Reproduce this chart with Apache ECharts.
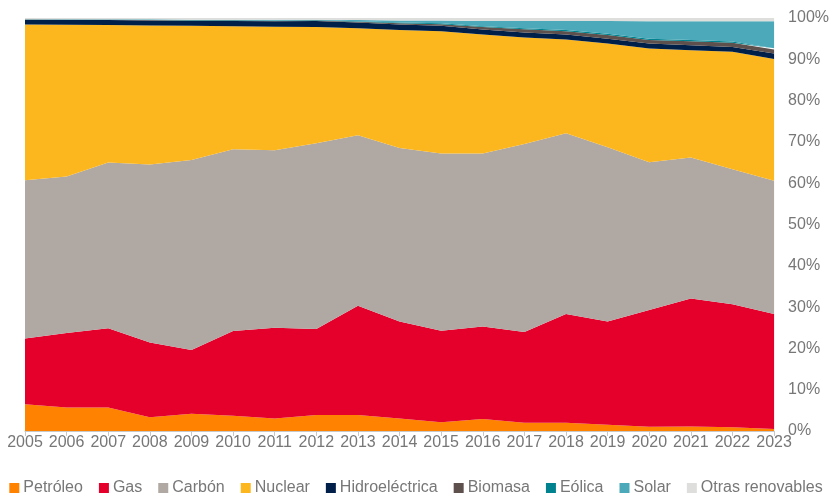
<!DOCTYPE html>
<html>
<head>
<meta charset="utf-8">
<script src="https://cdn.jsdelivr.net/npm/echarts@6/dist/echarts.min.js"></script>
<style>
  html, body { margin: 0; padding: 0; background: #ffffff; }
  #chart { width: 832px; height: 499px; }
</style>
</head>
<body>
<div id="chart"></div>
<script>
// Generation mix by source, share of total (%)
const years = ['2005','2006','2007','2008','2009','2010','2011','2012','2013','2014',
               '2015','2016','2017','2018','2019','2020','2021','2022','2023'];

const petroleo      = [6.5, 5.7, 5.7, 3.3, 4.2, 3.7, 3.0, 3.9, 3.9, 3.0, 2.1, 2.9, 2.0, 2.0, 1.5, 1.0, 1.1, 0.9, 0.5];
const gas           = [15.9, 18.0, 19.2, 18.1, 15.4, 20.5, 22.0, 20.8, 26.4, 23.5, 22.2, 22.4, 22.0, 26.3, 25.0, 28.3, 31.0, 29.8, 27.8];
const carbon        = [38.3, 37.9, 40.1, 43.1, 46.0, 44.0, 43.0, 45.0, 41.3, 42.0, 42.9, 41.9, 45.5, 43.8, 42.2, 35.8, 34.1, 32.7, 32.3];
const nuclear       = [37.7, 36.75, 33.3, 33.7, 32.5, 29.8, 29.9, 28.1, 25.9, 28.6, 29.6, 28.8, 25.8, 22.7, 25.1, 27.5, 26.0, 28.4, 29.5];
const hidro         = [1.2, 1.2, 1.2, 1.2, 1.2, 1.3, 1.3, 1.5, 1.4, 1.3, 1.3, 1.2, 1.2, 1.2, 1.2, 1.2, 1.2, 1.2, 1.3];
const biomasa       = [0.05, 0.05, 0.05, 0.1, 0.1, 0.1, 0.1, 0.1, 0.2, 0.3, 0.4, 0.6, 0.8, 0.8, 0.9, 0.9, 1.0, 1.0, 1.0];
const eolica        = [0.05, 0.05, 0.1, 0.1, 0.1, 0.1, 0.1, 0.1, 0.1, 0.2, 0.2, 0.2, 0.2, 0.3, 0.3, 0.3, 0.3, 0.3, 0.3];
const solar         = [0.0, 0.05, 0.05, 0.1, 0.1, 0.1, 0.2, 0.1, 0.3, 0.5, 0.7, 1.3, 1.8, 2.2, 3.1, 4.2, 4.5, 4.9, 6.5];
const otras         = [0.3, 0.3, 0.3, 0.3, 0.4, 0.4, 0.4, 0.4, 0.5, 0.6, 0.6, 0.7, 0.7, 0.7, 0.7, 0.8, 0.8, 0.8, 0.8];

const yTicks = { min: 0, max: 100, interval: 10 };

const seriesDefs = [
  ['Petróleo', petroleo, '#FF8200'],
  ['Gas', gas, '#E4002B'],
  ['Carbón', carbon, '#B0A8A2'],
  ['Nuclear', nuclear, '#FDB71E'],
  ['Hidroeléctrica', hidro, '#00204A'],
  ['Biomasa', biomasa, '#5E514D'],
  ['Eólica', eolica, '#00838F'],
  ['Solar', solar, '#4BA9B9'],
  ['Otras renovables', otras, '#DEDEDC']
];

const textColor = '#777777';
const font = 'Liberation Sans, Arial, sans-serif';

const chart = echarts.init(document.getElementById('chart'), null, { renderer: 'canvas' });
chart.setOption({
  animation: false,
  backgroundColor: '#ffffff',
  grid: { left: 25, right: 57, top: 18, bottom: 68, containLabel: false },
  legend: {
    bottom: 3,
    left: 'center',
    padding: [0, 5],
    icon: 'rect',
    itemWidth: 10,
    itemHeight: 10,
    itemGap: 16,
    textStyle: { color: textColor, fontSize: 16, fontFamily: font, padding: [0, 0, 0, -1] },
    data: seriesDefs.map(d => d[0])
  },
  xAxis: {
    type: 'category',
    data: years,
    boundaryGap: false,
    axisLine: { lineStyle: { color: '#c8c8c8', width: 1 } },
    axisTick: { show: true, length: 5, lineStyle: { color: '#c8c8c8' } },
    axisLabel: { color: textColor, fontSize: 16, fontFamily: font, margin: 4, interval: 0 },
    splitLine: { show: false }
  },
  yAxis: {
    type: 'value',
    position: 'right',
    min: yTicks.min,
    max: yTicks.max,
    interval: yTicks.interval,
    axisLine: { show: false },
    axisTick: { show: false },
    splitLine: { show: false },
    axisLabel: { color: textColor, fontSize: 16, fontFamily: font, margin: 14, formatter: '{value}%' }
  },
  series: seriesDefs.map(([name, values, color]) => ({
    name,
    type: 'line',
    stack: 'total',
    data: values,
    symbol: 'none',
    showSymbol: false,
    lineStyle: { width: 0, color },
    itemStyle: { color },
    areaStyle: { color, opacity: 1 },
    emphasis: { disabled: true }
  }))
});
</script>
</body>
</html>
